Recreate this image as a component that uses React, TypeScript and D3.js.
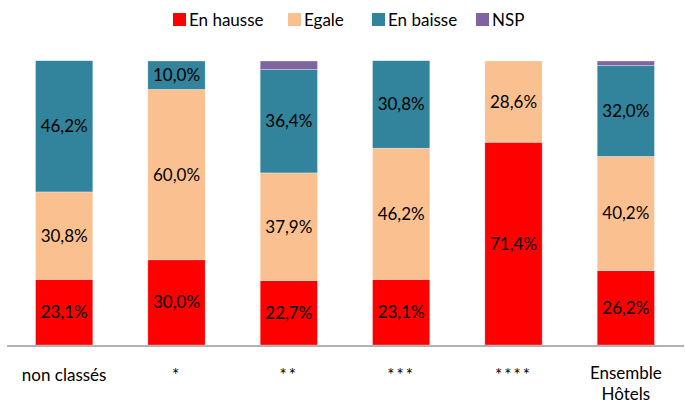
import React, { useRef, useEffect } from 'react'
import * as d3 from 'd3'

const categories = ['non classés', '*', '**', '***', '****', 'Ensemble Hôtels']
const enHausse = [23.1, 30.0, 22.7, 23.1, 71.4, 26.2]
const egale = [30.8, 60.0, 37.9, 46.2, 28.6, 40.2]
const enBaisse = [46.2, 10.0, 36.4, 30.8, 0, 32.0]
const nsp = [0, 0, 3.0, 0, 0, 1.6]

const seriesNames = ['En hausse', 'Egale', 'En baisse', 'NSP']
const colors = ['#FF0000', '#FAC090', '#31849B', '#8064A2']

export default function App() {
  const ref = useRef<SVGSVGElement>(null)

  useEffect(() => {
    const svg = d3.select(ref.current)
    svg.selectAll('*').remove()
    const font = 'Lato, Calibri, sans-serif'
    const fs = 17

    const rows = categories.map((c, i) => ({
      cat: c,
      'En hausse': enHausse[i],
      'Egale': egale[i],
      'En baisse': enBaisse[i],
      'NSP': nsp[i]
    }))

    const layers = d3.stack<any>().keys(seriesNames)(rows)

    const x = d3.scaleBand().domain(categories).range([8, 682]).paddingInner(0.49).paddingOuter(0.245)
    const y = d3.scaleLinear().domain([0, 100]).range([345, 61])

    const g = svg.append('g')
    layers.forEach((layer, li) => {
      g.selectAll(null)
        .data(layer)
        .enter().append('rect')
        .attr('x', d => x(d.data.cat)!)
        .attr('width', x.bandwidth())
        .attr('y', d => y(d[1]))
        .attr('height', d => Math.max(0, y(d[0]) - y(d[1])))
        .attr('fill', colors[li])
        .attr('stroke', '#fff')
        .attr('stroke-opacity', 0.5)
        .attr('stroke-width', 0.6)

      if (li < 3) {
        g.selectAll(null)
          .data(layer.filter(d => d[1] - d[0] > 0))
          .enter().append('text')
          .attr('x', d => x(d.data.cat)! + x.bandwidth() / 2)
          .attr('y', d => (y(d[0]) + y(d[1])) / 2)
          .attr('dy', '0.35em')
          .attr('text-anchor', 'middle')
          .attr('font-family', font)
          .attr('font-size', fs)
          .attr('fill', '#000')
          .text(d => (d[1] - d[0]).toFixed(1).replace('.', ',') + '%')
      }
    })

    // axis line
    svg.append('line')
      .attr('x1', 7).attr('x2', 684)
      .attr('y1', 346).attr('y2', 346)
      .attr('stroke', '#999')
      .attr('stroke-width', 1.5)

    // category labels
    categories.forEach(c => {
      const cx = x(c)! + x.bandwidth() / 2
      const t = svg.append('text')
        .attr('x', cx)
        .attr('text-anchor', 'middle')
        .attr('font-family', font)
        .attr('font-size', fs)
        .attr('fill', '#000')
      if (c === 'Ensemble Hôtels') {
        t.attr('y', 379)
        t.append('tspan').attr('x', cx).text('Ensemble')
        t.append('tspan').attr('x', cx).attr('dy', 21).text('Hôtels')
      } else if (c.startsWith('*')) {
        t.attr('y', 381).attr('letter-spacing', 2).text(c)
      } else {
        t.attr('y', 381).text(c)
      }
    })

    // legend
    const legendX = [173, 288, 372, 476]
    seriesNames.forEach((s, i) => {
      svg.append('rect')
        .attr('x', legendX[i]).attr('y', 13)
        .attr('width', 13).attr('height', 13)
        .attr('fill', colors[i])
      svg.append('text')
        .attr('x', legendX[i] + 16)
        .attr('y', 20)
        .attr('dy', '0.35em')
        .attr('font-family', font)
        .attr('font-size', fs)
        .attr('fill', '#000')
        .text(s)
    })
  }, [])

  return (
    <svg ref={ref} width={686} height={403} style={{ position: 'absolute', left: 0, top: 0 }} />
  )
}
